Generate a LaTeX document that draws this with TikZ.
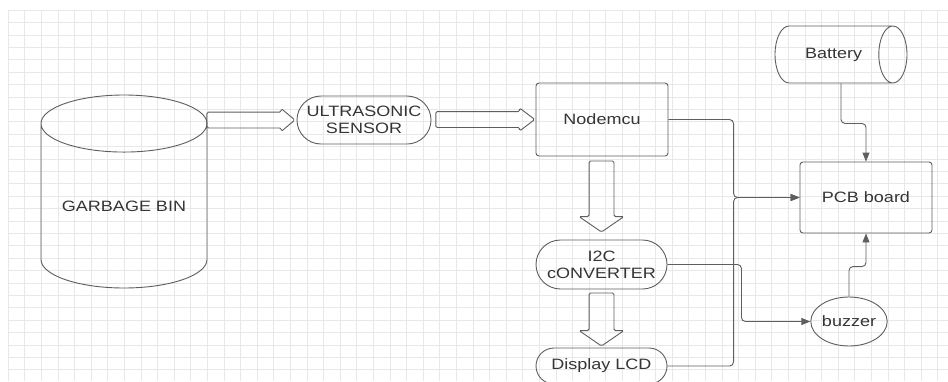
\documentclass[tikz,border=0pt]{standalone}
\usepackage{fontspec}
\setmainfont[FakeStretch=1.2]{Liberation Sans}
\usetikzlibrary{shapes.geometric,shapes.misc,shapes.arrows,arrows.meta,calc}
\definecolor{inkgray}{HTML}{5E5E5E}
\definecolor{textgray}{HTML}{353535}
\definecolor{gridgray}{HTML}{E8E8E8}
\tikzset{
  every node/.style={draw=inkgray,line width=0.9pt,text=textgray,font=\fontsize{15}{17}\selectfont,align=center,inner sep=0pt},
  box/.style={rectangle,rounded corners=3pt},
  pill/.style={rounded rectangle},
  drum/.style={cylinder,aspect=#1},
  blockarr/.style={single arrow,minimum width=0pt,inner xsep=0pt,rounded corners=1.5pt},
  wire/.style={draw=inkgray,line width=0.9pt,rounded corners=4pt,-{Triangle[length=9pt,width=7pt]}}
}

\begin{document}
\begin{tikzpicture}[x=1pt,y=-1pt]
    \useasboundingbox (0,0) rectangle (948,381);
    \fill[white] (0,0) rectangle (948,381);
    \draw[gridgray,line width=0.6pt,xstep=16.6pt,ystep=12.4pt,shift={(8,10)}] (0,0) grid (940,371);

    \node[drum=0.46,shape border rotate=90,minimum width=166pt,minimum height=193pt,anchor=shape center] (bin) at (124,191.5) {GARBAGE BIN};
    \node[pill,minimum width=134pt,minimum height=48pt] (sensor) at (364,120) {ULTRASONIC\\SENSOR};
    \node[box,minimum width=132pt,minimum height=73pt] (mcu) at (602,119.5) {Nodemcu};
    \node[drum=2.1,minimum width=57pt,minimum height=132pt,anchor=shape center] (battery) at (841,54.5) {Battery};
    \node[box,minimum width=132pt,minimum height=71pt] (pcb) at (866,197.5) {PCB board};
    \node[pill,minimum width=131pt,minimum height=49pt] (i2c) at (601.5,264.5) {I2C\\cONVERTER};
    \node[pill,minimum width=131pt,minimum height=36pt] (lcd) at (601.5,366) {Display LCD};
    \node[ellipse,minimum width=66pt,minimum height=49pt] (buzzer) at (849,321.5) {buzzer};

    \node[blockarr,inner ysep=7.5pt,single arrow head extend=3.5pt,single arrow tip angle=80,minimum height=88pt,anchor=east] (a1) at ([xshift=-1pt]sensor.west) {};
    \node[blockarr,inner ysep=7.5pt,single arrow head extend=3.5pt,single arrow tip angle=74,minimum height=99pt,anchor=east] (a2) at (mcu.west) {};
    \node[blockarr,rotate=-90,inner ysep=12pt,single arrow head extend=10pt,single arrow tip angle=111,minimum height=71pt,anchor=east] (a3) at ([yshift=7pt]i2c.north) {};
    \node[blockarr,rotate=-90,inner ysep=12pt,single arrow head extend=10pt,single arrow tip angle=111,minimum height=53pt,anchor=east] (a4) at ([yshift=1pt]lcd.north) {};

    \coordinate (bus) at ([xshift=-66pt]pcb.west);
    \draw[wire] (mcu.east) -| (bus) -- (pcb.west);
    \draw[wire] (lcd.east) -| (bus) -- (pcb.west);
    \draw[wire] (battery.shape center |- battery.south) -- ++(0,40) -| (pcb.north);
    \draw[wire] (i2c.east) -- ++(74,0) |- (buzzer.west);
    \draw[wire] (buzzer.north) -- ++(0,-30) -| (pcb.south);
\end{tikzpicture}
\end{document}
